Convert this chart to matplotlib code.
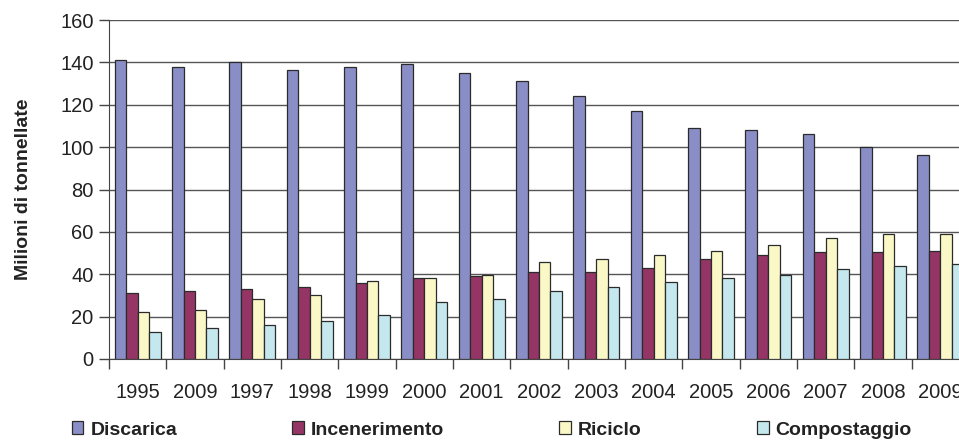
import numpy as np
import matplotlib
matplotlib.use("Agg")
import matplotlib.pyplot as plt

# Data (milioni di tonnellate)
anni = ["1995", "2009", "1997", "1998", "1999", "2000", "2001", "2002",
        "2003", "2004", "2005", "2006", "2007", "2008", "2009"]
discarica = [141, 138, 140, 136.5, 138, 139, 135, 131, 124, 117, 109, 108, 106, 100, 96.5]
incenerimento = [31.3, 32, 33, 33.8, 36, 38, 39.3, 41, 41, 43, 47, 49, 50.3, 50.3, 51]
riciclo = [22, 23.3, 28.2, 30, 36.8, 38, 39.7, 45.8, 47.3, 49, 51, 54, 57, 59, 59]
compostaggio = [12.9, 14.8, 16, 17.8, 21, 26.9, 28.2, 32, 33.8, 36.3, 38, 39.8, 42.3, 44, 44.7]

series = [("Discarica", discarica, "#8A8EC6"),
          ("Incenerimento", incenerimento, "#943566"),
          ("Riciclo", riciclo, "#FAF8C6"),
          ("Compostaggio", compostaggio, "#C5E8EE")]

plt.rcParams["font.family"] = ["Liberation Sans", "DejaVu Sans"]

fig = plt.figure(figsize=(9.59, 4.41), dpi=100)
# plot area runs past the right edge, as in the cropped original
ax = fig.add_axes([109 / 959, 1 - 359 / 441, 860 / 959, 339 / 441])

x = np.arange(len(anni))
w = 0.2
for i, (name, vals, col) in enumerate(series):
    ax.bar(x - 0.3 + i * w, vals, width=w, color=col, edgecolor="#2b2b2b",
           linewidth=0.9, label=name, zorder=3)

ax.set_xlim(-0.5, len(anni) - 0.5)
ax.set_ylim(0, 160)
ax.set_yticks(np.arange(0, 161, 20))
ax.yaxis.grid(True, color="#555555", linewidth=1.0, zorder=0)
ax.set_axisbelow(True)

ax.set_xticks(x)
ax.set_xticklabels(anni)
ax.set_xticks(np.arange(-0.5, len(anni), 1), minor=True)
ax.tick_params(axis="x", which="major", length=0, pad=17, labelsize=14.5, colors="#222222")
ax.tick_params(axis="x", which="minor", length=7, width=1, color="#444444")
ax.tick_params(axis="y", length=7, width=1, color="#444444", labelsize=14.5,
               labelcolor="#222222", pad=4)

for s in ["top", "right"]:
    ax.spines[s].set_visible(False)
ax.spines["left"].set_color("#444444")
ax.spines["bottom"].set_color("#444444")

ax.set_ylabel("Milioni di tonnellate", fontsize=14, fontweight="bold",
              color="#222222", labelpad=20)

leg = fig.legend(loc="center left", bbox_to_anchor=(64 / 959, 1 - 430 / 441),
                 ncol=4, frameon=False, handlelength=0.6, handleheight=0.6,
                 handletextpad=0.35, columnspacing=5.93, borderaxespad=0,
                 prop={"size": 14, "weight": "bold"})
for t in leg.get_texts():
    t.set_color("#222222")

fig.savefig("out.png", dpi=100)
